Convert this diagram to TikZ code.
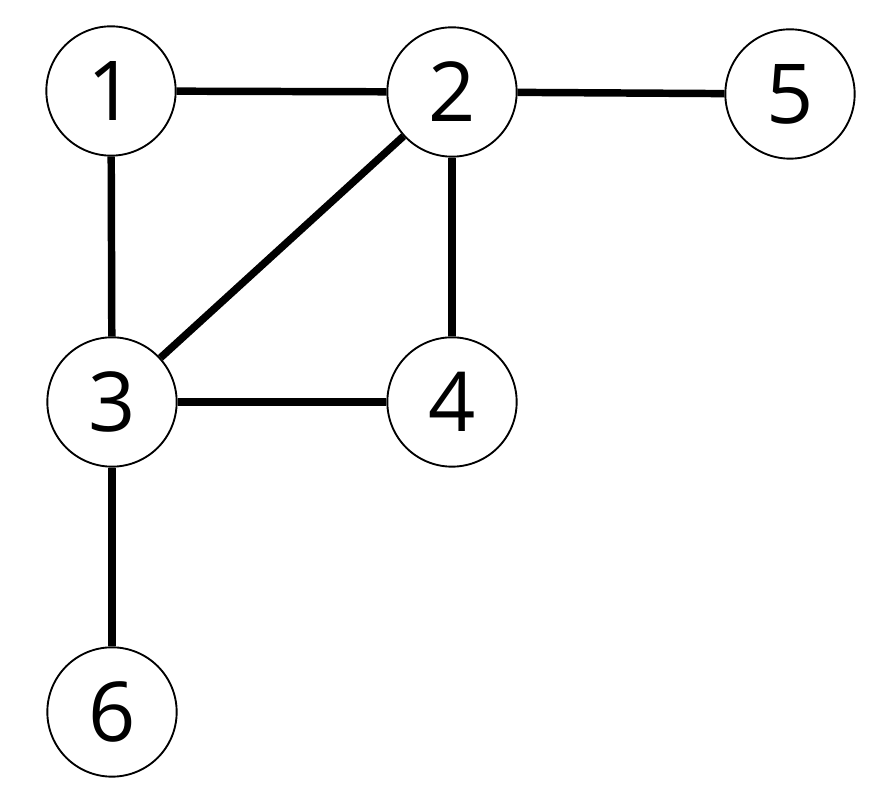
\documentclass[tikz,border=0pt]{standalone}
\usepackage{fontspec}
\setmainfont{Open Sans}
\usetikzlibrary{positioning}

\begin{document}
\begin{tikzpicture}[x=0.75pt, y=0.75pt,
    vertex/.style={circle, draw, line width=1.4pt, fill=white, minimum size=97pt, inner sep=0pt, font=\fontsize{62}{74}\selectfont},
    link/.style={line width=5.6pt}]
    % fixed frame
    \useasboundingbox (0,0) rectangle (894,798);

    % Vertices
    \node[vertex] (v1) at (111,707) {1};
    \node[vertex] (v2) at (452,706) {2};
    \node[vertex] (v5) at (790,704) {5};
    \node[vertex] (v3) at (112,396) {3};
    \node[vertex] (v4) at (452,396) {4};
    \node[vertex] (v6) at (112,86) {6};

    % Edges
    \foreach \a/\b in {v1/v2, v2/v5, v1/v3, v2/v3, v2/v4, v3/v4, v3/v6} {
        \draw[link] (\a) -- (\b);
    }
\end{tikzpicture}
\end{document}
